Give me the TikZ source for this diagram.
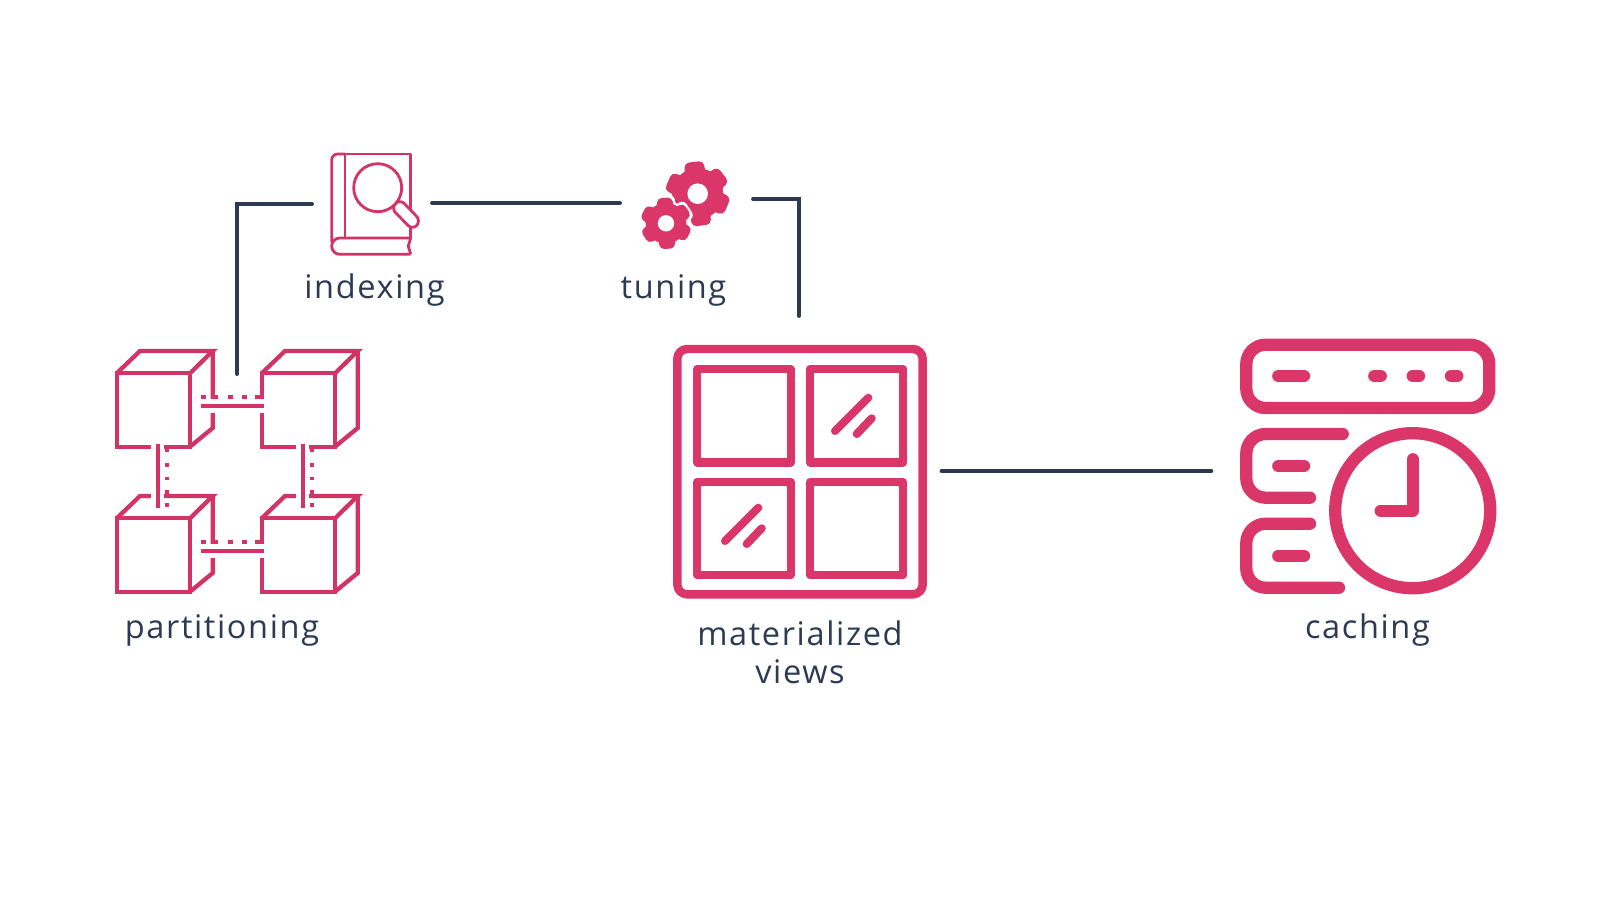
\documentclass[tikz,border=0pt]{standalone}
\usepackage{fontspec}
\setmainfont[LetterSpace=5]{Open Sans}
\usetikzlibrary{positioning, calc}
\definecolor{ink}{HTML}{2C3B52}
\definecolor{rose}{HTML}{DB3669}

% one cog: centre x, centre y, radius, turn, colour, extra stroke
\newcommand{\cogshape}[6]{
  \fill[#5] (#1,#2) circle ({0.80*#3+#6});
  \foreach \t in {0,60,...,300}
    \fill[#5, rounded corners=1.2pt, shift={(#1,#2)}, rotate=#4+\t]
      ({-0.40*#3-#6},0) -- ({-0.29*#3-#6},{#3+#6}) -- ({0.29*#3+#6},{#3+#6}) -- ({0.40*#3+#6},0) -- cycle;
}

\begin{document}
\begin{tikzpicture}[x=0.01cm, y=-0.01cm, font=\fontsize{9.25}{10.8}\selectfont,
  hit/.style={inner sep=0pt, minimum height=1pt},
  lbl/.style={text=ink, align=center, inner sep=0pt},
  arr/.style={draw=ink, line width=0.95pt, line cap=round},
  thin ico/.style={draw=rose!96!black, line width=0.8pt, line join=round},
  cube/.style={draw=rose!96!black, line width=1.22pt, line join=miter},
  ico/.style={draw=rose, line width=3.5pt, line cap=round, line join=round},
  win/.style={draw=rose, line width=2.3pt, line cap=round, line join=round}
]
  \useasboundingbox (0,0) rectangle (1600,900);

  % anchors of the links
  \node[hit, minimum width=118*0.2845pt] (idx) at (372,204) {};
  \node[hit, minimum width=131*0.2845pt] (cog) at (686.5,199) {};
  \node[hit, minimum width=1pt, minimum height=154*0.2845pt] (par) at (237,452) {};
  \node[hit, minimum width=283*0.2845pt, minimum height=308*0.2845pt] (mat) at (799,471) {};
  \node[hit, minimum width=1pt] (cac) at (1214,471) {};

  % cubes
  \foreach \dx in {0,145} \foreach \dy in {0,145} {
    \draw[cube] (116.7+\dx,373.3+\dy) rectangle (190+\dx,446.7+\dy);
    \draw[cube] (116.7+\dx,373.3+\dy) -- (140+\dx,351+\dy) -- (212.7+\dx,351+\dy) -- (190+\dx,373.3+\dy);
    \draw[cube] (212.7+\dx,351+\dy) -- (212.7+\dx,428+\dy) -- (190+\dx,446.7+\dy);
  }
  % links between the cubes
  \foreach \dy in {0,145} {
    \fill[white] (204,398.8+\dy) rectangle (270,412.5+\dy);
    \draw[cube] (201,405.7+\dy) -- (264,405.7+\dy);
    \foreach \a/\b in {201/206,212/218,228.3/233.3,242/247,255/263.5}
      \draw[cube] (\a,396.7+\dy) -- (\b,396.7+\dy);
  }
  \foreach \dx in {0,145} {
    \fill[white] (150.5+\dx,440) rectangle (164+\dx,500);
    \draw[cube] (157.7+\dx,444.3) -- (157.7+\dx,507.7);
    \foreach \a/\b in {445/451.7,463.3/466.7,476.7/480,490/497,503.3/506.7}
      \draw[cube] (166.7+\dx,\a) -- (166.7+\dx,\b);
  }

  % book
  \begin{scope}[thin ico]
    \draw[rounded corners=1.7pt] (345,154) -- (331.7,154) -- (331.7,242);
    \draw (345,154) -- (410.7,154) -- (410.7,238);
    \draw (345,154) -- (345,237);
    \draw[rounded corners=2.3pt] (410.7,238) -- (331.7,238) -- (331.7,254.3) -- (410.7,254.3);
    \draw (410.7,238) -- (408.3,246) -- (410.7,254.3);
    \draw[fill=white, rounded corners=1.8pt] (400,199) -- (421,221) -- (412.5,230) -- (391,208) -- cycle;
    \draw[fill=white] (377.7,187.7) circle (24);
  \end{scope}

  % cogs
  \cogshape{697.7}{193.7}{32}{7}{rose}{0}
  \cogshape{666}{223.3}{25.5}{3}{white}{2.2}
  \cogshape{666}{223.3}{25.5}{3}{rose}{0}
  \fill[white] (697.7,193.7) circle (10.3);
  \fill[white] (666,223.3) circle (8.2);

  % window
  \draw[draw=rose, line width=2.4pt, rounded corners=2.8pt] (677.3,349) rectangle (922.7,594.3);
  \foreach \x/\y in {697.3/369,810/369,697.3/481.7,810/481.7}
    \draw[win] (\x,\y) rectangle (\x+93.3,\y+93.5);
  \foreach \dx/\dy in {0/0,-110/110} {
    \draw[win] (868.3+\dx,397.7+\dy) -- (835+\dx,431+\dy);
    \draw[win] (871.7+\dx,418.3+\dy) -- (856.7+\dx,434+\dy);
  }

  % server and clock
  \draw[ico, rounded corners=5.5pt] (1246.3,344.7) rectangle (1489.3,408);
  \foreach \a/\b/\y in {1278.3/1304/376,1374.3/1380.7/376,1412.7/1419/376,1451/1457.3/376,1278.3/1304/466,1278.3/1304/555.7}
    \draw[ico] (\a,\y) -- (\b,\y);
  \draw[ico, rounded corners=5.5pt] (1342.7,434) -- (1246.3,434) -- (1246.3,497.7) -- (1310,497.7);
  \draw[ico, rounded corners=5.5pt] (1310,523.7) -- (1246.3,523.7) -- (1246.3,587.7) -- (1339,587.7);
  \draw[ico] (1412.7,510.7) circle (77.5);
  \draw[ico] (1412.7,459.3) -- (1412.7,510.7) -- (1380.7,510.7);

  % links
  \draw[arr] (idx.west) -| (par.north);
  \draw[arr] ($(idx.east)+(0,-1)$) -- ($(idx.east -| cog.west)+(0,-1)$);
  \draw[arr] (cog.east) -| (mat.north);
  \draw[arr] (mat.east) -- (cac.west);

  % labels
  \node[lbl] (lidx) at (374.5,290) {indexing};
  \node[lbl] (lcog) at (673.5,290) {tuning};
  \node[lbl] (lpar) at (222,630) {partitioning};
  \node[lbl] (lmat) at (800,652) {materialized\\views};
  \node[lbl] (lcac) at (1367.5,630) {caching};
\end{tikzpicture}
\end{document}
